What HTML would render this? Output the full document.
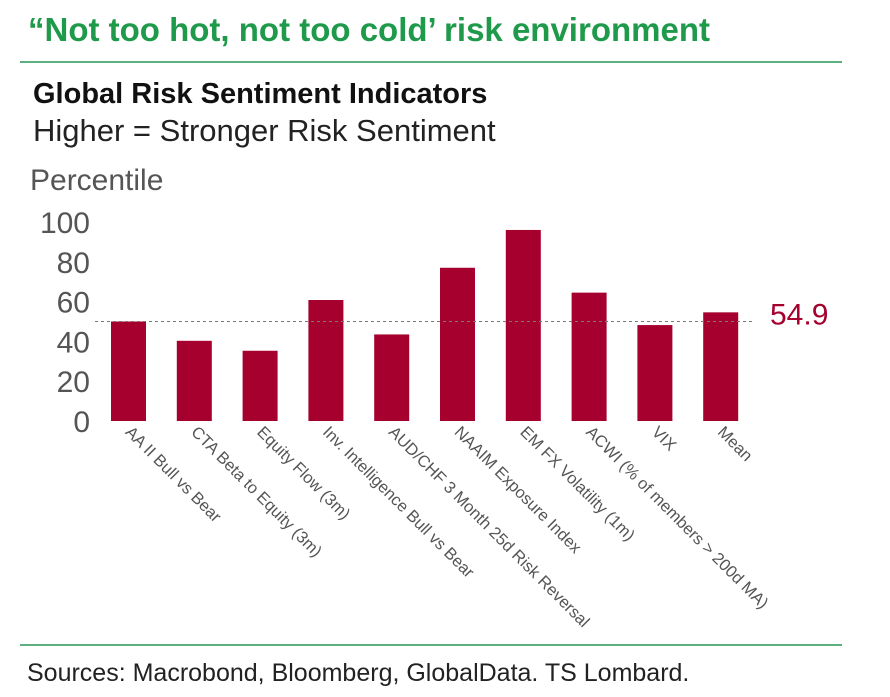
<!DOCTYPE html>
<html><head><meta charset="utf-8"><style>
body{margin:0;background:#fff;width:890px;height:697px;overflow:hidden;font-family:"Liberation Sans",sans-serif;}
.t{position:absolute;white-space:nowrap}
</style></head><body>
<div class="t" style="left:28px;top:11px;font-size:33px;font-weight:bold;color:#1f9a4b">“Not too hot, not too cold’ risk environment</div>
<div style="position:absolute;left:20px;top:61px;width:822px;height:2px;background:#5cb07f"></div>
<div class="t" style="left:33px;top:78px;font-size:29px;font-weight:bold;color:#111">Global Risk Sentiment Indicators</div>
<div class="t" style="left:33px;top:113px;font-size:31px;color:#222">Higher = Stronger Risk Sentiment</div>
<div class="t" style="left:30px;top:164px;font-size:30px;color:#555">Percentile</div>
<svg id="chart" width="890" height="697" style="position:absolute;left:0;top:0" font-family="Liberation Sans, sans-serif"></svg>
<div style="position:absolute;left:20px;top:644px;width:822px;height:2px;background:#5cb07f"></div>
<div class="t" style="left:27px;top:659px;font-size:25px;color:#222">Sources: Macrobond, Bloomberg, GlobalData. TS Lombard.</div>
<script>
const categories=["AA II Bull vs Bear","CTA Beta to Equity (3m)","Equity Flow (3m)","Inv. Intelligence Bull vs Bear","AUD/CHF 3 Month 25d Risk Reversal","NAAIM Exposure Index","EM FX Volatility (1m)","ACWI (% of members > 200d MA)","VIX","Mean"];
const values=[50,40.3,35.3,60.8,43.5,77,96,64.5,48.2,54.6];
const yTicks=[0,20,40,60,80,100];
const refValue=50;
const refLabel="54.9";
const svg=document.getElementById('chart');
const NS="http://www.w3.org/2000/svg";
const y0=421,yScale=1.99;
const y=v=>y0-v*yScale;
const x=i=>111+i*65.8;
const bw=35;
function mk(t,a){const e=document.createElementNS(NS,t);for(const k in a)e.setAttribute(k,a[k]);svg.appendChild(e);return e;}
yTicks.forEach(v=>{const e=mk('text',{x:90,y:y(v)+11,'text-anchor':'end','font-size':30,fill:'#555'});e.textContent=v;

});
values.forEach((v,i)=>{const r=mk('rect',{x:x(i),y:y(v),width:bw,height:v*yScale,fill:'#a5002e'});


const cx=x(i)+bw/2;
const t=mk('text',{x:cx-4,y:y0+12,'font-size':16.5,fill:'#555',transform:`rotate(45 ${cx-4} ${y0+12})`});
t.textContent=categories[i];

});
const l=mk('line',{x1:95,x2:755,y1:y(refValue),y2:y(refValue),stroke:'#777','stroke-width':1,'stroke-dasharray':'3,3'});


const lt=mk('text',{x:770,y:y(refValue)+3,'font-size':30,fill:'#a5002e'});lt.textContent=refLabel;


</script>
</body></html>
